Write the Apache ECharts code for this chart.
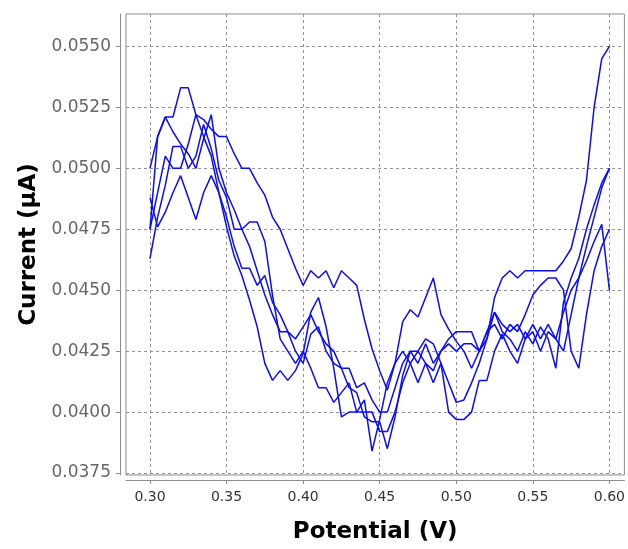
<!DOCTYPE html>
<html>
<head>
<meta charset="utf-8">
<script src="https://cdn.jsdelivr.net/npm/echarts@6/dist/echarts.min.js"></script>
<style>
  html, body { margin: 0; padding: 0; background: #ffffff; }
  #chart { width: 628px; height: 549px; }
</style>
</head>
<body>
<div id="chart"></div>
<script>
// Potential sweep, 0.300 V to 0.600 V in 5 mV steps
const potential = [];
for (let i = 0; i <= 60; i++) potential.push(+(0.30 + i * 0.005).toFixed(3));

// Tick positions shown on each axis
const xTicks = [0.30, 0.35, 0.40, 0.45, 0.50, 0.55, 0.60];
const yTicks = [0.0375, 0.0400, 0.0425, 0.0450, 0.0475, 0.0500, 0.0525, 0.0550];

// Measured current (µA) for five repeated scans
const scan1 = [
  0.0500, 0.0513, 0.0521, 0.0521, 0.0533, 0.0533, 0.0522, 0.0513, 0.0505, 0.0490,
  0.0476, 0.0464, 0.0456, 0.0446, 0.0435, 0.0420, 0.0413, 0.0417, 0.0413, 0.0417,
  0.0424, 0.0441, 0.0447, 0.0435, 0.0418, 0.0398, 0.0400, 0.0400, 0.0405, 0.0384,
  0.0397, 0.0412, 0.0420, 0.0425, 0.0420, 0.0412, 0.0420, 0.0417, 0.0425, 0.0430,
  0.0433, 0.0433, 0.0433, 0.0425, 0.0433, 0.0441, 0.0433, 0.0430, 0.0425, 0.0433,
  0.0428, 0.0435, 0.0430, 0.0418, 0.0445, 0.0455, 0.0463, 0.0475, 0.0485, 0.0494,
  0.0500
];
const scan2 = [
  0.0475, 0.0490, 0.0505, 0.0500, 0.0500, 0.0510, 0.0522, 0.0520, 0.0516, 0.0513,
  0.0513, 0.0506, 0.0500, 0.0500, 0.0494, 0.0489, 0.0480, 0.0475, 0.0467, 0.0459,
  0.0452, 0.0458, 0.0455, 0.0458, 0.0451, 0.0458, 0.0455, 0.0452, 0.0438, 0.0426,
  0.0417, 0.0409, 0.0420, 0.0437, 0.0442, 0.0439, 0.0447, 0.0455, 0.0440, 0.0434,
  0.0429, 0.0425, 0.0418, 0.0425, 0.0430, 0.0441, 0.0436, 0.0433, 0.0436, 0.0430,
  0.0433, 0.0425, 0.0433, 0.0430, 0.0441, 0.0450, 0.0455, 0.0462, 0.0470, 0.0477,
  0.0450
];
const scan3 = [
  0.0463, 0.0480, 0.0493, 0.0509, 0.0509, 0.0500, 0.0505, 0.0518, 0.0508, 0.0495,
  0.0488, 0.0475, 0.0475, 0.0478, 0.0478, 0.0470, 0.0448, 0.0430, 0.0425, 0.0420,
  0.0425, 0.0418, 0.0410, 0.0410, 0.0404, 0.0408, 0.0412, 0.0400, 0.0400, 0.0400,
  0.0392, 0.0392, 0.0400, 0.0412, 0.0420, 0.0425, 0.0430, 0.0428, 0.0420, 0.0412,
  0.0404, 0.0405, 0.0412, 0.0420, 0.0430, 0.0447, 0.0455, 0.0458, 0.0455, 0.0458,
  0.0458, 0.0458, 0.0458, 0.0458, 0.0462, 0.0467, 0.0480, 0.0495, 0.0525, 0.0545,
  0.0550
];
const scan4 = [
  0.0475, 0.0513, 0.0521, 0.0515, 0.0510, 0.0506, 0.0500, 0.0512, 0.0522, 0.0500,
  0.0490, 0.0483, 0.0475, 0.0468, 0.0458, 0.0448, 0.0440, 0.0433, 0.0433, 0.0425,
  0.0420, 0.0432, 0.0435, 0.0425, 0.0420, 0.0418, 0.0410, 0.0408, 0.0398, 0.0396,
  0.0396, 0.0385, 0.0398, 0.0415, 0.0425, 0.0425, 0.0420, 0.0412, 0.0420, 0.0400,
  0.0397, 0.0397, 0.0400, 0.0413, 0.0413, 0.0425, 0.0432, 0.0425, 0.0420, 0.0430,
  0.0436, 0.0430, 0.0436, 0.0430, 0.0425, 0.0440, 0.0455, 0.0468, 0.0480, 0.0492,
  0.0500
];
const scan5 = [
  0.0488, 0.0476, 0.0482, 0.0490, 0.0497, 0.0488, 0.0479, 0.0490, 0.0497, 0.0490,
  0.0480, 0.0468, 0.0459, 0.0459, 0.0452, 0.0456, 0.0445, 0.0440, 0.0433, 0.0430,
  0.0435, 0.0440, 0.0433, 0.0428, 0.0425, 0.0418, 0.0418, 0.0410, 0.0412, 0.0405,
  0.0400, 0.0400, 0.0410, 0.0420, 0.0425, 0.0420, 0.0428, 0.0420, 0.0425, 0.0428,
  0.0425, 0.0428, 0.0428, 0.0425, 0.0433, 0.0436, 0.0430, 0.0436, 0.0433, 0.0440,
  0.0448, 0.0452, 0.0455, 0.0455, 0.0450, 0.0425, 0.0418, 0.0440, 0.0458, 0.0468,
  0.0475
];
const scans = [scan1, scan2, scan3, scan4, scan5];

const chart = echarts.init(document.getElementById('chart'), null, { renderer: 'canvas' });

const gridLine = { show: true, lineStyle: { color: '#939393', type: [3, 3], width: 1 } };

chart.setOption({
  backgroundColor: '#ffffff',
  animation: false,
  grid: {
    left: 126, right: 3, top: 14, bottom: 70,
    show: true, borderColor: '#8c8c8c', borderWidth: 1, backgroundColor: '#ffffff'
  },
  xAxis: {
    type: 'value',
    min: 0.28435, max: 0.60978,
    offset: 5,
    name: 'Potential (V)',
    nameLocation: 'middle',
    nameGap: 41,
    nameTextStyle: { fontFamily: 'DejaVu Sans', fontWeight: 'bold', fontSize: 23, color: '#000' },
    axisLine: { show: true, lineStyle: { color: '#8c8c8c', width: 1 } },
    axisTick: { show: true, length: 4, customValues: xTicks, lineStyle: { color: '#8c8c8c' } },
    axisLabel: {
      customValues: xTicks, margin: 10,
      fontFamily: 'DejaVu Sans', fontSize: 14, color: '#333',
      formatter: v => v.toFixed(2)
    },
    splitLine: gridLine
  },
  yAxis: {
    type: 'value',
    min: 0.03742, max: 0.05633,
    offset: 6,
    name: 'Current (µA)',
    nameLocation: 'middle',
    nameGap: 71,
    nameTextStyle: { fontFamily: 'DejaVu Sans', fontWeight: 'bold', fontSize: 23, color: '#000' },
    axisLine: { show: true, lineStyle: { color: '#8c8c8c', width: 1 } },
    axisTick: { show: true, length: 4, customValues: yTicks, lineStyle: { color: '#8c8c8c' } },
    axisLabel: {
      customValues: yTicks, margin: 9,
      fontFamily: 'DejaVu Sans', fontSize: 17, color: '#666',
      formatter: v => v.toFixed(4)
    },
    splitLine: gridLine
  },
  series: scans.map((s, k) => ({
    name: 'Scan ' + (k + 1),
    type: 'line',
    data: potential.map((x, i) => [x, s[i]]),
    showSymbol: false,
    symbol: 'none',
    lineStyle: { color: '#0a0aff', width: 1.5 },
    z: 3
  }))
});
</script>
</body>
</html>
